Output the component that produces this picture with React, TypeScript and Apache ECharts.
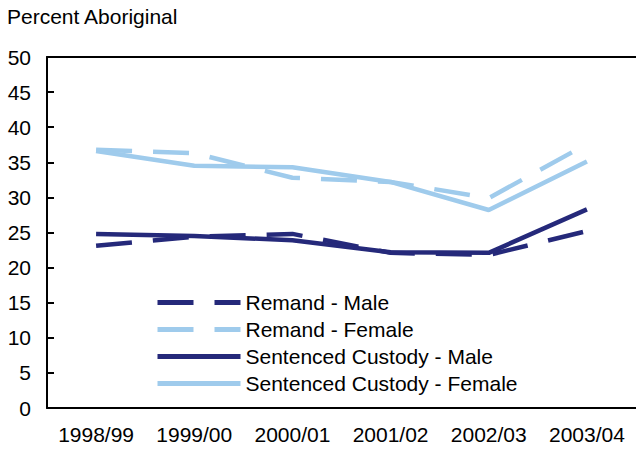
import React, { useEffect, useRef } from "react";
import * as echarts from "echarts";

const categories = ["1998/99", "1999/00", "2000/01", "2001/02", "2002/03", "2003/04"];
const remandMale = [23.1, 24.4, 24.8, 22.1, 21.8, 25.2];
const remandFemale = [36.8, 36.3, 32.8, 32.2, 29.9, 37.6];
const sentencedMale = [24.8, 24.5, 23.9, 22.2, 22.1, 28.3];
const sentencedFemale = [36.6, 34.5, 34.3, 32.2, 28.2, 35.1];

const DARK = "#25297a";
const LIGHT = "#9fcbec";
const FONT = "'Liberation Sans', Arial, Helvetica, sans-serif";

export default function App() {
  const ref = useRef<HTMLDivElement>(null);
  useEffect(() => {
    if (!ref.current) return;
    const chart = echarts.init(ref.current, null, { renderer: "svg" });
    const mk = (name: string, data: number[], color: string, dashed: boolean) => ({
      name,
      type: "line",
      data,
      symbol: "none",
      lineStyle: { color, width: 4.5, type: dashed ? [36, 21] : "solid", cap: "butt" },
      itemStyle: { color },
    });
    chart.setOption({
      animation: false,
      textStyle: { fontFamily: FONT },
      title: {
        text: "Percent Aboriginal",
        left: 2,
        top: 1,
        textStyle: { fontSize: 21, fontWeight: "normal", color: "#000", fontFamily: FONT },
      },
      grid: { left: 47, right: -1, top: 57, bottom: 45, containLabel: false },
      legend: {
        orient: "vertical",
        left: 150,
        top: 287,
        itemWidth: 83,
        itemHeight: 14,
        itemGap: 6,
        itemStyle: { opacity: 0, borderWidth: 0 },
        lineStyle: { width: 5 },
        textStyle: { fontSize: 21, color: "#000", fontFamily: FONT },
        data: [
          "Remand - Male",
          "Remand - Female",
          "Sentenced Custody - Male",
          "Sentenced Custody - Female",
        ],
      },
      xAxis: [
        {
          type: "category",
          data: categories,
          boundaryGap: true,
          axisLine: { lineStyle: { color: "#000", width: 2 } },
          axisTick: { inside: true, length: 8, interval: 0, lineStyle: { color: "#000", width: 2 } },
          axisLabel: { fontSize: 21, color: "#000", margin: 16, interval: 0, fontFamily: FONT },
          splitLine: { show: false },
        },
        {
          type: "category",
          data: categories,
          position: "top",
          axisLine: { lineStyle: { color: "#000", width: 2 } },
          axisTick: { show: false },
          axisLabel: { show: false },
          splitLine: { show: false },
        },
      ],
      yAxis: {
        type: "value",
        min: 0,
        max: 50,
        interval: 5,
        axisLine: { show: true, lineStyle: { color: "#000", width: 2 } },
        axisTick: { show: true, inside: true, length: 7, lineStyle: { color: "#000", width: 2 } },
        axisLabel: { fontSize: 21, color: "#000", margin: 16, fontFamily: FONT },
        splitLine: { show: false },
      },
      series: [
        mk("Remand - Male", remandMale, DARK, true),
        mk("Remand - Female", remandFemale, LIGHT, true),
        mk("Sentenced Custody - Male", sentencedMale, DARK, false),
        mk("Sentenced Custody - Female", sentencedFemale, LIGHT, false),
      ],
    });
    return () => chart.dispose();
  }, []);
  return <div ref={ref} style={{ width: 636, height: 453, position: "absolute", left: 0, top: 0 }} />;
}
